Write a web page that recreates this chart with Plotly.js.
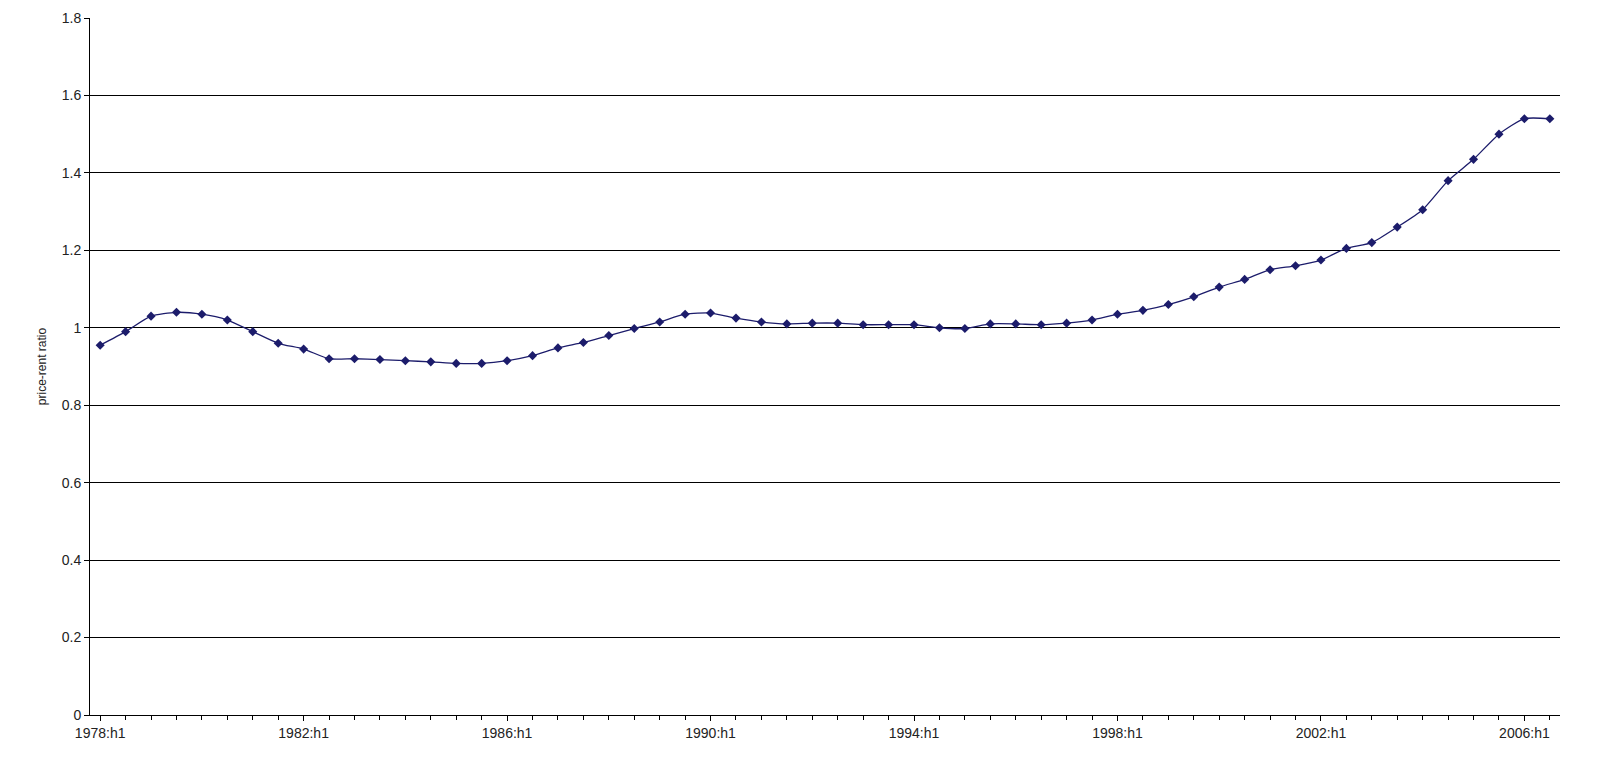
<!DOCTYPE html>
<html><head><meta charset="utf-8">
<script src="https://cdn.plot.ly/plotly-3.0.1.min.js"></script>
<style>body{margin:0;background:#fff}#c{width:1602px;height:763px}</style>
</head><body><div id="c"></div>
<script>
const periods = [];
for (let y = 1978; y <= 2006; y++) { periods.push(y + ":h1"); periods.push(y + ":h2"); }
const ratio = [0.955,0.99,1.03,1.04,1.035,1.02,0.99,0.96,0.945,0.92,0.92,0.918,0.915,0.912,0.908,0.908,0.915,0.928,0.948,0.962,0.98,0.998,1.015,1.035,1.038,1.025,1.015,1.01,1.012,1.012,1.008,1.008,1.008,1.0,0.998,1.01,1.01,1.008,1.012,1.02,1.035,1.045,1.06,1.08,1.105,1.125,1.15,1.16,1.175,1.205,1.22,1.26,1.305,1.38,1.435,1.5,1.54,1.54];
const tickLabels = periods.filter((p,i)=>i%8===0);
Plotly.newPlot('c',[{
  x: periods, y: ratio, type:'scatter', mode:'lines+markers',
  line:{color:'#1c1c6b',width:1.3,shape:'spline',smoothing:0.6},
  marker:{symbol:'diamond',size:7,color:'#1c1c6b'}
}],{
  width:1602,height:763,paper_bgcolor:'#fff',plot_bgcolor:'#fff',
  margin:{l:90,r:42,t:18,b:48},showlegend:false,
  font:{family:'Liberation Sans, Arial',size:14,color:'#222'},
  xaxis:{type:'category',tickmode:'array',tickvals:tickLabels,ticktext:tickLabels,
    showgrid:false,showline:true,linecolor:'#000',ticks:'outside',ticklen:5,tickcolor:'#000',
    range:[-0.4,57.4],tickangle:0,
    minor:{tickmode:'linear',dtick:1,ticks:'outside',ticklen:4,tickcolor:'#000',showgrid:false}},
  yaxis:{range:[0,1.8],dtick:0.2,showgrid:true,gridcolor:'#000',gridwidth:1,
    showline:true,linecolor:'#000',ticks:'outside',ticklen:5,tickcolor:'#000',zeroline:false,
    tickformat:'~g',title:{text:'price-rent ratio',font:{size:12},standoff:12}}
},{displayModeBar:false});
</script></body></html>
